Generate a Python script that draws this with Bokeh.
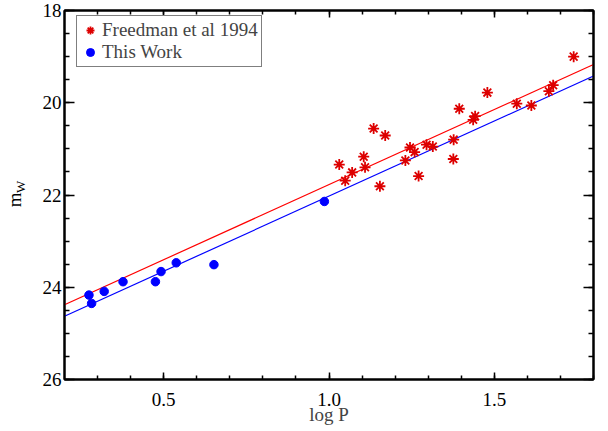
import math
from bokeh.plotting import figure
from bokeh.models import (Range1d, SingleIntervalTicker, FixedTicker, LinearAxis, Legend,
                          LegendItem, CustomJSTickFormatter, PrintfTickFormatter)
from bokeh.embed import file_html
from bokeh.resources import INLINE

# Freedman et al 1994 (log P, m_W)
fr_logp = [1.74, 1.678, 1.665, 1.612, 1.568, 1.479, 1.442, 1.436, 1.394, 1.377,
           1.376, 1.314, 1.295, 1.259, 1.245, 1.231, 1.271, 1.170, 1.135, 1.105,
           1.109, 1.154, 1.070, 1.049, 1.031]
fr_mw = [19.00, 19.62, 19.75, 20.06, 20.02, 19.78, 20.29, 20.37, 20.13, 20.80,
         21.22, 20.95, 20.91, 21.07, 20.97, 21.25, 21.59, 20.71, 20.56, 21.17,
         21.40, 21.81, 21.51, 21.69, 21.34]

# This Work
tw_logp = [0.274, 0.282, 0.320, 0.377, 0.475, 0.492, 0.538, 0.652, 0.986]
tw_mw = [24.17, 24.35, 24.09, 23.88, 23.88, 23.66, 23.47, 23.51, 22.14]

# P-L fits: m = intercept + slope * logP
fit_slope = -3.255
fr_intercept = 25.03
tw_intercept = 25.28

x_range = (0.2, 1.8)
y_range = (26, 18)

FONT = "Liberation Serif"
NBSP = "\u00a0"

W_FIG, H_FIG = 600, 427
B_LEFT, B_RIGHT, B_TOP, B_BOTTOM = 64, 7, 10, 48
FRAME_H = H_FIG - B_TOP - B_BOTTOM

p = figure(width=W_FIG, height=H_FIG, output_backend="svg", toolbar_location=None,
           x_range=Range1d(*x_range), y_range=Range1d(*y_range),
           min_border_left=B_LEFT, min_border_right=B_RIGHT,
           min_border_top=B_TOP, min_border_bottom=B_BOTTOM)
p.grid.visible = False
p.outline_line_color = "black"
p.outline_line_width = 2
p.background_fill_color = "white"
p.border_fill_color = "white"

def style_axis(ax, major_len, minor_len, labels=True):
    ax.axis_line_color = "black"
    ax.axis_line_width = 2
    ax.major_tick_in = major_len
    ax.major_tick_out = 0
    ax.minor_tick_in = minor_len
    ax.minor_tick_out = 0
    ax.major_tick_line_width = 1.5
    ax.minor_tick_line_width = 1.5
    ax.major_tick_line_color = "black"
    ax.minor_tick_line_color = "black"
    if labels:
        ax.major_label_text_font = FONT
        ax.major_label_text_font_size = "19px"
        ax.major_label_text_color = "black"
    else:
        ax.formatter = CustomJSTickFormatter(code="return ''")
        ax.major_label_text_font_size = "0px"
        ax.major_label_standoff = 0

p.xaxis.ticker = SingleIntervalTicker(interval=0.5, num_minor_ticks=5)
p.yaxis.ticker = SingleIntervalTicker(interval=2, num_minor_ticks=4)
p.xaxis.formatter = PrintfTickFormatter(format="%.1f")
style_axis(p.xaxis[0], 7, 4)
style_axis(p.yaxis[0], 10, 5)
p.xaxis.major_label_standoff = 13
p.yaxis.major_label_standoff = 3
p.xaxis.axis_label = "log P"
p.xaxis.axis_label_text_font = FONT
p.xaxis.axis_label_text_font_size = "19px"
p.xaxis.axis_label_text_font_style = "normal"
p.xaxis.axis_label_standoff = -5

top = LinearAxis(ticker=SingleIntervalTicker(interval=0.5, num_minor_ticks=5))
right = LinearAxis(ticker=SingleIntervalTicker(interval=2, num_minor_ticks=4))
style_axis(top, 7, 4, labels=False)
style_axis(right, 10, 5, labels=False)
p.add_layout(top, "above")
p.add_layout(right, "right")

# y axis title "m" with subscript "W", built from two label-only axes
def title_axis(text, size, standoff):
    ax = LinearAxis(ticker=FixedTicker(ticks=[]), axis_label=text)
    ax.axis_line_color = None
    ax.major_tick_line_color = None
    ax.minor_tick_line_color = None
    ax.major_label_text_font_size = "0px"
    ax.major_label_standoff = 0
    ax.axis_label_text_font = FONT
    ax.axis_label_text_font_size = size
    ax.axis_label_text_font_style = "normal"
    ax.axis_label_text_color = "black"
    ax.axis_label_standoff = standoff
    return ax

p.add_layout(title_axis(NBSP * 5 + "W", "13px", 12), "left")
p.add_layout(title_axis("m" + NBSP * 2, "19px", -15), "left")

# fit lines
xs = list(x_range)
p.line(xs, [fr_intercept + fit_slope * x for x in xs], line_color="red", line_width=1.2)
p.line(xs, [tw_intercept + fit_slope * x for x in xs], line_color="blue", line_width=1.2)

r_pts = p.scatter(fr_logp, fr_mw, marker="asterisk", size=11, line_color="#dd0000", line_width=1.8)
b_pts = p.scatter(tw_logp, tw_mw, marker="circle", size=8.5, fill_color="blue", line_color="blue")

LEG_H = 46
legend = Legend(items=[LegendItem(label="Freedman et al 1994", renderers=[r_pts]),
                       LegendItem(label="This Work", renderers=[b_pts])],
                location=(12, FRAME_H - 11 - LEG_H))
legend.label_text_font = FONT
legend.label_text_font_size = "19px"
legend.label_height = 18
legend.glyph_height = 20
legend.glyph_width = 20
legend.spacing = 0
legend.padding = 3
legend.margin = 0
legend.label_standoff = 2
legend.border_line_color = "black"
legend.border_line_width = 1.5
legend.background_fill_alpha = 1
p.add_layout(legend, "center")

open("out.html", "w").write(file_html(p, INLINE))
